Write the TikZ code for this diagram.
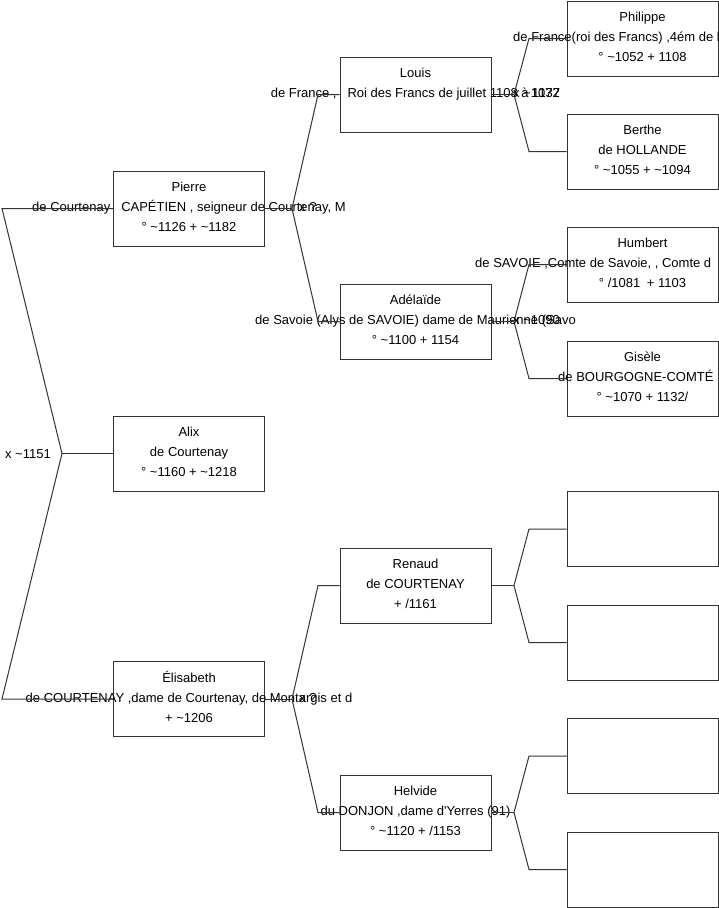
\documentclass[tikz,border=0pt]{standalone}
\usepackage{fontspec}
\setmainfont{Liberation Sans}
\definecolor{lc}{RGB}{51,51,51}
\begin{document}
\begin{tikzpicture}[x=1pt,y=-1pt,
  pbox/.style={draw=lc, line width=1pt, minimum width=151pt, minimum height=75pt, inner sep=0pt, anchor=center},
  txt/.style={font=\fontsize{13}{15}\selectfont, inner sep=0pt, text=black, anchor=base},
  txw/.style={txt, anchor=base west},
  lab/.style={font=\fontsize{13}{15}\selectfont, inner sep=0pt, text=black},
  conn/.style={draw=lc, line width=1pt}]
\useasboundingbox (0,0) rectangle (719,908);
\fill[white] (0,0) rectangle (719,908);

% boxes
\node[pbox] (pierre) at (189,208.5) {};
\node[pbox] (alix) at (189,453.5) {};
\node[pbox] (elis) at (189,699) {};
\node[pbox] (louis) at (415.5,94.5) {};
\node[pbox] (adel) at (415.5,321.5) {};
\node[pbox] (renaud) at (415.5,585.5) {};
\node[pbox] (helv) at (415.5,812.5) {};
\node[pbox] (phil) at (642.5,38.5) {};
\node[pbox] (berthe) at (642.5,151.5) {};
\node[pbox] (humb) at (642.5,264.5) {};
\node[pbox] (gis) at (642.5,378.5) {};
\node[pbox] (e1) at (642.5,529) {};
\node[pbox] (e2) at (642.5,642.5) {};
\node[pbox] (e3) at (642.5,756) {};
\node[pbox] (e4) at (642.5,869.5) {};

% texts
\node[txt] (pierre1) at (189,191.5) {Pierre};
\node[txt] (pierre2) at (189,211.5) {de Courtenay\hspace{11pt}CAPÉTIEN , seigneur de Courtenay, M};
\node[txt] (pierre3) at (189,231.5) {° \textasciitilde1126 + \textasciitilde1182};

\node[txt] (alix1) at (189,436.5) {Alix};
\node[txt] (alix2) at (189,456.5) {de Courtenay};
\node[txt] (alix3) at (189,476.5) {° \textasciitilde1160 + \textasciitilde1218};

\node[txt] (elis1) at (189,682) {Élisabeth};
\node[txt] (elis2) at (189,702) {de COURTENAY ,dame de Courtenay, de Montargis et d};
\node[txt] (elis3) at (189,722) {+ \textasciitilde1206};

\node[txt] (louis1) at (415.5,77.5) {Louis};
\node[txt] (louis2) at (415.5,97.5) {de France ,\hspace{11pt}Roi des Francs de juillet 1108 à 1137};

\node[txt] (adel1) at (415.5,304.5) {Adélaïde};
\node[txt] (adel2) at (415.5,324.5) {de Savoie (Alys de SAVOIE) dame de Maurienne (Savo};
\node[txt] (adel3) at (415.5,344.5) {° \textasciitilde1100 + 1154};

\node[txt] (ren1) at (415.5,568.5) {Renaud};
\node[txt] (ren2) at (415.5,588.5) {de COURTENAY};
\node[txt] (ren3) at (415.5,608.5) {+ /1161};

\node[txt] (helv1) at (415.5,795.5) {Helvide};
\node[txt] (helv2) at (415.5,815.5) {du DONJON ,dame d\textquotesingle Yerres (91)};
\node[txt] (helv3) at (415.5,835.5) {° \textasciitilde1120 + /1153};

\node[txt] (phil1) at (642.5,21.5) {Philippe};
\node[txw] (phil2) at (513,41.5) {de France(roi des Francs) ,4ém de la d};
\node[txt] (phil3) at (642.5,61.5) {° \textasciitilde1052 + 1108};

\node[txt] (ber1) at (642.5,134.5) {Berthe};
\node[txt] (ber2) at (642.5,154.5) {de HOLLANDE};
\node[txt] (ber3) at (642.5,174.5) {° \textasciitilde1055 + \textasciitilde1094};

\node[txt] (hum1) at (642.5,247.5) {Humbert};
\node[txw] (hum2) at (475,267.5) {de SAVOIE ,Comte de Savoie, , Comte d};
\node[txt] (hum3) at (642.5,287.5) {° /1081\hspace{3pt} + 1103};

\node[txt] (gis1) at (642.5,361.5) {Gisèle};
\node[txw] (gis2) at (558,381.5) {de BOURGOGNE-COMTÉ};
\node[txt] (gis3) at (642.5,401.5) {° \textasciitilde1070 + 1132/};

% junction coordinates
\coordinate (j0) at (62,453.5);
\coordinate (b0a) at (2,208.5);
\coordinate (b0b) at (2,699);
\coordinate (j1) at (292,208.5);
\coordinate (b1a) at (318,94.5);
\coordinate (b1b) at (318,321.5);
\coordinate (j2) at (292,699);
\coordinate (b2a) at (318,585.5);
\coordinate (b2b) at (318,812.5);
\coordinate (j3) at (514,94.5);
\coordinate (b3a) at (529,38.5);
\coordinate (b3b) at (529,151.5);
\coordinate (j4) at (514,321.5);
\coordinate (b4a) at (529,264.5);
\coordinate (b4b) at (529,378.5);
\coordinate (j5) at (514,585.5);
\coordinate (b5a) at (529,529);
\coordinate (b5b) at (529,642.5);
\coordinate (j6) at (514,812.5);
\coordinate (b6a) at (529,756);
\coordinate (b6b) at (529,869.5);

% connectors
\draw[conn] (pierre.west) -- (b0a) -- (j0) -- (b0b) -- (elis.west);
\draw[conn] (j0) -- (alix.west);
\draw[conn] (pierre.east) -- (j1);
\draw[conn] (j1) -- (b1a) -- (louis.west);
\draw[conn] (j1) -- (b1b) -- (adel.west);
\draw[conn] (elis.east) -- (j2);
\draw[conn] (j2) -- (b2a) -- (renaud.west);
\draw[conn] (j2) -- (b2b) -- (helv.west);
\draw[conn] (louis.east) -- (j3);
\draw[conn] (j3) -- (b3a) -- (phil.west);
\draw[conn] (j3) -- (b3b) -- (berthe.west);
\draw[conn] (adel.east) -- (j4);
\draw[conn] (j4) -- (b4a) -- (humb.west);
\draw[conn] (j4) -- (b4b) -- (gis.west);
\draw[conn] (renaud.east) -- (j5);
\draw[conn] (j5) -- (b5a) -- (e1.west);
\draw[conn] (j5) -- (b5b) -- (e2.west);
\draw[conn] (helv.east) -- (j6);
\draw[conn] (j6) -- (b6a) -- (e3.west);
\draw[conn] (j6) -- (b6b) -- (e4.west);

% marriage labels
\node[lab, anchor=base east] (m0) at (51,458) {x \textasciitilde1151};
\node[lab, anchor=base west] (m1) at (299,211.5) {x ?};
\node[lab, anchor=base west] (m2) at (299,702) {x ?};
\node[lab, anchor=base west] (m3) at (513,97.5) {x \textasciitilde1072};
\node[lab, anchor=base west] (m4) at (513,324.5) {x \textasciitilde1090};
\end{tikzpicture}
\end{document}
